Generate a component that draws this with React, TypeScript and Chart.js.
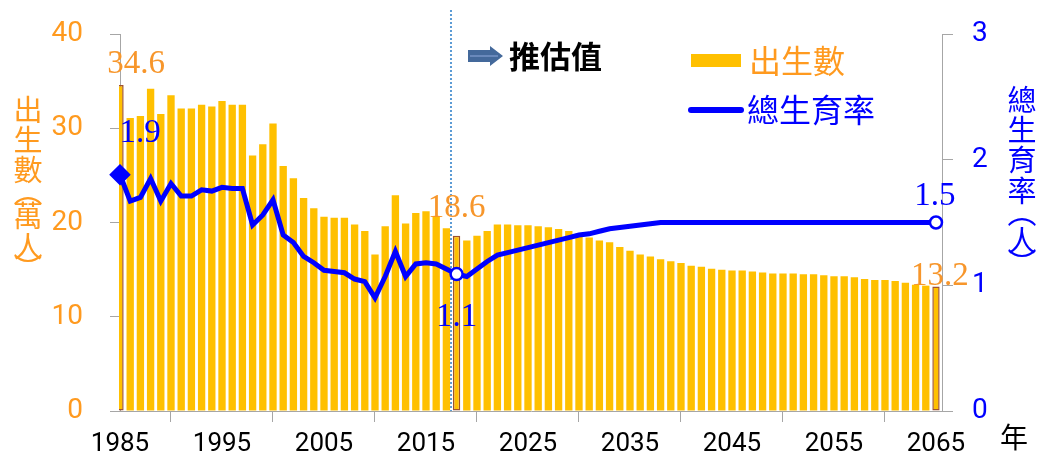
import { useEffect, useRef } from "react";
import { Chart, registerables } from "chart.js";

Chart.register(...registerables);

// ---- data ----
const years = [
  1985, 1986, 1987, 1988, 1989, 1990, 1991, 1992, 1993, 1994,
  1995, 1996, 1997, 1998, 1999, 2000, 2001, 2002, 2003, 2004,
  2005, 2006, 2007, 2008, 2009, 2010, 2011, 2012, 2013, 2014,
  2015, 2016, 2017, 2018, 2019, 2020, 2021, 2022, 2023, 2024,
  2025, 2026, 2027, 2028, 2029, 2030, 2031, 2032, 2033, 2034,
  2035, 2036, 2037, 2038, 2039, 2040, 2041, 2042, 2043, 2044,
  2045, 2046, 2047, 2048, 2049, 2050, 2051, 2052, 2053, 2054,
  2055, 2056, 2057, 2058, 2059, 2060, 2061, 2062, 2063, 2064,
  2065,
];

// 出生數 (萬人)
const births = [
  34.6, 31.1, 31.3, 34.2, 31.5, 33.5, 32.1, 32.1, 32.5, 32.3,
  32.9, 32.5, 32.5, 27.1, 28.3, 30.5, 26.0, 24.7, 22.6, 21.5,
  20.6, 20.5, 20.5, 19.8, 19.1, 16.6, 19.6, 22.9, 19.9, 21.0,
  21.2, 20.7, 19.4, 18.6, 18.1, 18.6, 19.1, 19.8, 19.8, 19.7,
  19.7, 19.6, 19.5, 19.3, 19.1, 18.8, 18.4, 18.1, 17.9, 17.4,
  17.0, 16.6, 16.4, 16.1, 15.9, 15.7, 15.4, 15.3, 15.1, 15.0,
  14.9, 14.9, 14.8, 14.7, 14.6, 14.6, 14.6, 14.5, 14.5, 14.4,
  14.3, 14.3, 14.2, 14.0, 13.9, 13.9, 13.8, 13.6, 13.4, 13.3,
  13.2,
];

// 總生育率 (人)
const tfr = [
  1.88, 1.67, 1.70, 1.85, 1.67, 1.81, 1.71, 1.71, 1.76, 1.75,
  1.78, 1.77, 1.77, 1.48, 1.56, 1.68, 1.40, 1.34, 1.23, 1.18,
  1.12, 1.11, 1.10, 1.05, 1.03, 0.90, 1.07, 1.27, 1.07, 1.17,
  1.18, 1.17, 1.13, 1.09, 1.07, 1.13, 1.19, 1.24, 1.26, 1.28,
  1.30, 1.32, 1.34, 1.36, 1.38, 1.40, 1.41, 1.43, 1.45, 1.46,
  1.47, 1.48, 1.49, 1.50, 1.50, 1.50, 1.50, 1.50, 1.50, 1.50,
  1.50, 1.50, 1.50, 1.50, 1.50, 1.50, 1.50, 1.50, 1.50, 1.50,
  1.50, 1.50, 1.50, 1.50, 1.50, 1.50, 1.50, 1.50, 1.50, 1.50,
  1.50,
];

const xTickYears = [1985, 1995, 2005, 2015, 2025, 2035, 2045, 2055, 2065];
const leftTicks = [0, 10, 20, 30, 40];
const rightTicks = [0, 1, 2, 3];
const highlightYears = [1985, 2018, 2065];
const projectionStart = 2017.45;

const birthsLabel = "出生數";
const tfrLabel = "總生育率";
const projectionText = "推估值";
const leftTitle = ["出", "生", "數", "︵", "萬", "人", "︶"];
const rightTitle = ["總", "生", "育", "率", "︵", "人", "︶"];
const xUnit = "年";

// ---- styles ----
const GOLD = "#FFC000";
const ORANGE = "#FF9A1F";
const BLUE = "#0000FF";
const AXIS = "#A6A6A6";
const BROWN = "#A0522D";
const CJK = '"Noto Sans CJK TC", "Noto Sans", sans-serif';

const overlay = {
  id: "overlay",
  beforeDatasetsDraw(chart: any) {
    const { ctx, chartArea } = chart;
    const x = chart.scales.x.getPixelForValue(projectionStart);
    ctx.save();
    ctx.strokeStyle = "#5B9BD5";
    ctx.lineWidth = 2;
    ctx.setLineDash([2, 2]);
    ctx.beginPath();
    ctx.moveTo(x, 10);
    ctx.lineTo(x, chartArea.bottom);
    ctx.stroke();
    ctx.restore();
  },
  afterDatasetsDraw(chart: any) {
    const { ctx } = chart;
    const sx = chart.scales.x;
    const sy = chart.scales.y;
    const sy2 = chart.scales.y2;
    ctx.save();
    ctx.font = '33px "Liberation Serif", serif';
    ctx.textBaseline = "alphabetic";
    ctx.textAlign = "center";
    const birthOffsets: Record<number, [number, number]> = {
      1985: [16, -12],
      2018: [0, -19],
      2065: [4, -2],
    };
    const tfrOffsets: Record<number, [number, number]> = {
      1985: [20, -33],
      2018: [0, 52],
      2065: [-1, -18],
    };
    highlightYears.forEach((yr) => {
      const i = years.indexOf(yr);
      const [bx, by] = birthOffsets[yr];
      ctx.fillStyle = "#F7962B";
      ctx.fillText(
        births[i].toFixed(1),
        sx.getPixelForValue(yr) + bx,
        sy.getPixelForValue(births[i]) + by
      );
      const [tx, ty] = tfrOffsets[yr];
      ctx.fillStyle = BLUE;
      ctx.fillText(
        tfr[i].toFixed(1),
        sx.getPixelForValue(yr) + tx,
        sy2.getPixelForValue(tfr[i]) + ty
      );
    });
    ctx.restore();
  },
  afterDraw(chart: any) {
    const { ctx } = chart;
    ctx.save();
    // vertical axis titles
    const drawVertical = (chars: string[], cx: number, ys: number[], color: string) => {
      ctx.fillStyle = color;
      ctx.font = `29px ${CJK}`;
      ctx.textAlign = "center";
      ctx.textBaseline = "middle";
      chars.forEach((c, k) => ctx.fillText(c, cx, ys[k]));
    };
    drawVertical(leftTitle, 28, [110, 140, 170, 192, 216, 247, 268], ORANGE);
    drawVertical(rightTitle, 1022, [100, 130, 160, 191, 213, 241, 263], BLUE);

    // x unit
    ctx.fillStyle = "#000";
    ctx.font = `28px ${CJK}`;
    ctx.textAlign = "center";
    ctx.textBaseline = "middle";
    ctx.fillText(xUnit, 1014, 437);

    // projection arrow + text
    ctx.fillStyle = "#44699B";
    ctx.beginPath();
    ctx.moveTo(468, 50);
    ctx.lineTo(490, 50);
    ctx.lineTo(490, 46);
    ctx.lineTo(503, 56);
    ctx.lineTo(490, 66);
    ctx.lineTo(490, 62);
    ctx.lineTo(468, 62);
    ctx.closePath();
    ctx.fill();
    ctx.strokeStyle = "#8FAADC";
    ctx.lineWidth = 1;
    ctx.beginPath();
    ctx.moveTo(470, 56);
    ctx.lineTo(498, 56);
    ctx.stroke();
    ctx.fillStyle = "#000";
    ctx.font = `bold 31px ${CJK}`;
    ctx.textAlign = "left";
    ctx.fillText(projectionText, 509, 56);

    // legend
    ctx.fillStyle = GOLD;
    ctx.fillRect(691, 54, 50, 13);
    ctx.font = `32px ${CJK}`;
    ctx.fillStyle = ORANGE;
    ctx.fillText(birthsLabel, 749, 61);
    ctx.strokeStyle = BLUE;
    ctx.lineWidth = 6;
    ctx.lineCap = "round";
    ctx.beginPath();
    ctx.moveTo(691, 110);
    ctx.lineTo(741, 110);
    ctx.stroke();
    ctx.fillStyle = BLUE;
    ctx.fillText(tfrLabel, 747, 110);
    ctx.restore();
  },
};

const noVPad = (s: any, w: number) => {
  s.width = w;
  s.paddingTop = 0;
  s.paddingBottom = 0;
};

export default function App() {
  const ref = useRef<HTMLCanvasElement | null>(null);
  useEffect(() => {
    document.body.style.margin = "0";
    const canvas = ref.current!;
    const pointRadius = years.map((y) => (y === 1985 ? 9 : highlightYears.includes(y) ? 6 : 0));
    const pointStyle = years.map((y) => (y === 1985 ? "rectRot" : "circle"));
    const pointBg = years.map((y) => (y === 1985 ? BLUE : "#FFFFFF"));
    const chart = new Chart(canvas, {
      type: "bar",
      data: {
        datasets: [
          {
            type: "line",
            label: tfrLabel,
            data: years.map((y, i) => ({ x: y, y: tfr[i] })),
            yAxisID: "y2",
            borderColor: BLUE,
            borderWidth: 5,
            tension: 0,
            order: 0,
            clip: false,
            pointRadius,
            pointHoverRadius: pointRadius,
            pointStyle: pointStyle as any,
            pointBackgroundColor: pointBg,
            pointBorderColor: BLUE,
            pointBorderWidth: 2.5,
          } as any,
          {
            type: "bar",
            label: birthsLabel,
            data: years.map((y, i) => ({ x: y, y: births[i] })),
            yAxisID: "y",
            backgroundColor: GOLD,
            borderColor: years.map((y) => (highlightYears.includes(y) ? BROWN : GOLD)),
            borderWidth: years.map((y) => (highlightYears.includes(y) ? 1.5 : 0)),
            borderSkipped: false,
            barPercentage: 0.72,
            categoryPercentage: 1,
            order: 1,
            clip: { left: 1, right: false, top: false, bottom: false },
          } as any,
        ],
      },
      options: {
        responsive: false,
        animation: false,
        devicePixelRatio: 1,
        layout: { padding: { top: 34, left: 0, right: 0, bottom: 0 } },
        plugins: {
          legend: { display: false },
          tooltip: { enabled: false },
        },
        scales: {
          x: {
            type: "linear",
            min: 1985,
            max: 2065.59,
            offset: false,
            afterBuildTicks: (s: any) => {
              s.ticks = xTickYears.map((v) => ({ value: v }));
            },
            afterFit: (s: any) => {
              s.height = 47;
            },
            ticks: {
              callback: (v: any) => String(v),
              font: { family: "Roboto", size: 26 },
              color: "#000",
              padding: 7,
              maxRotation: 0,
              autoSkip: false,
            },
            grid: { drawOnChartArea: false, drawTicks: true, tickLength: 11, color: AXIS },
            border: { color: AXIS },
          } as any,
          y: {
            position: "left",
            min: 0,
            max: 40,
            afterBuildTicks: (s: any) => {
              s.ticks = leftTicks.map((v) => ({ value: v }));
            },
            afterFit: (s: any) => noVPad(s, 120),
            ticks: {
              font: { family: "Roboto", size: 28 },
              color: ORANGE,
              padding: 27,
            },
            grid: { drawOnChartArea: false, drawTicks: true, tickLength: 10, color: AXIS },
            border: { color: AXIS },
          } as any,
          y2: {
            position: "right",
            min: 0,
            max: 3,
            afterBuildTicks: (s: any) => {
              s.ticks = rightTicks.map((v) => ({ value: v }));
            },
            afterFit: (s: any) => noVPad(s, 96),
            ticks: {
              font: { family: "Roboto", size: 28 },
              color: BLUE,
              padding: 19,
            },
            grid: { drawOnChartArea: false, drawTicks: true, tickLength: 11, color: AXIS },
            border: { color: AXIS },
          } as any,
        },
      },
      plugins: [overlay],
    });
    return () => chart.destroy();
  }, []);
  return (
    <div style={{ width: 1038, height: 458 }}>
      <canvas ref={ref} width={1038} height={458} style={{ display: "block" }} />
    </div>
  );
}
